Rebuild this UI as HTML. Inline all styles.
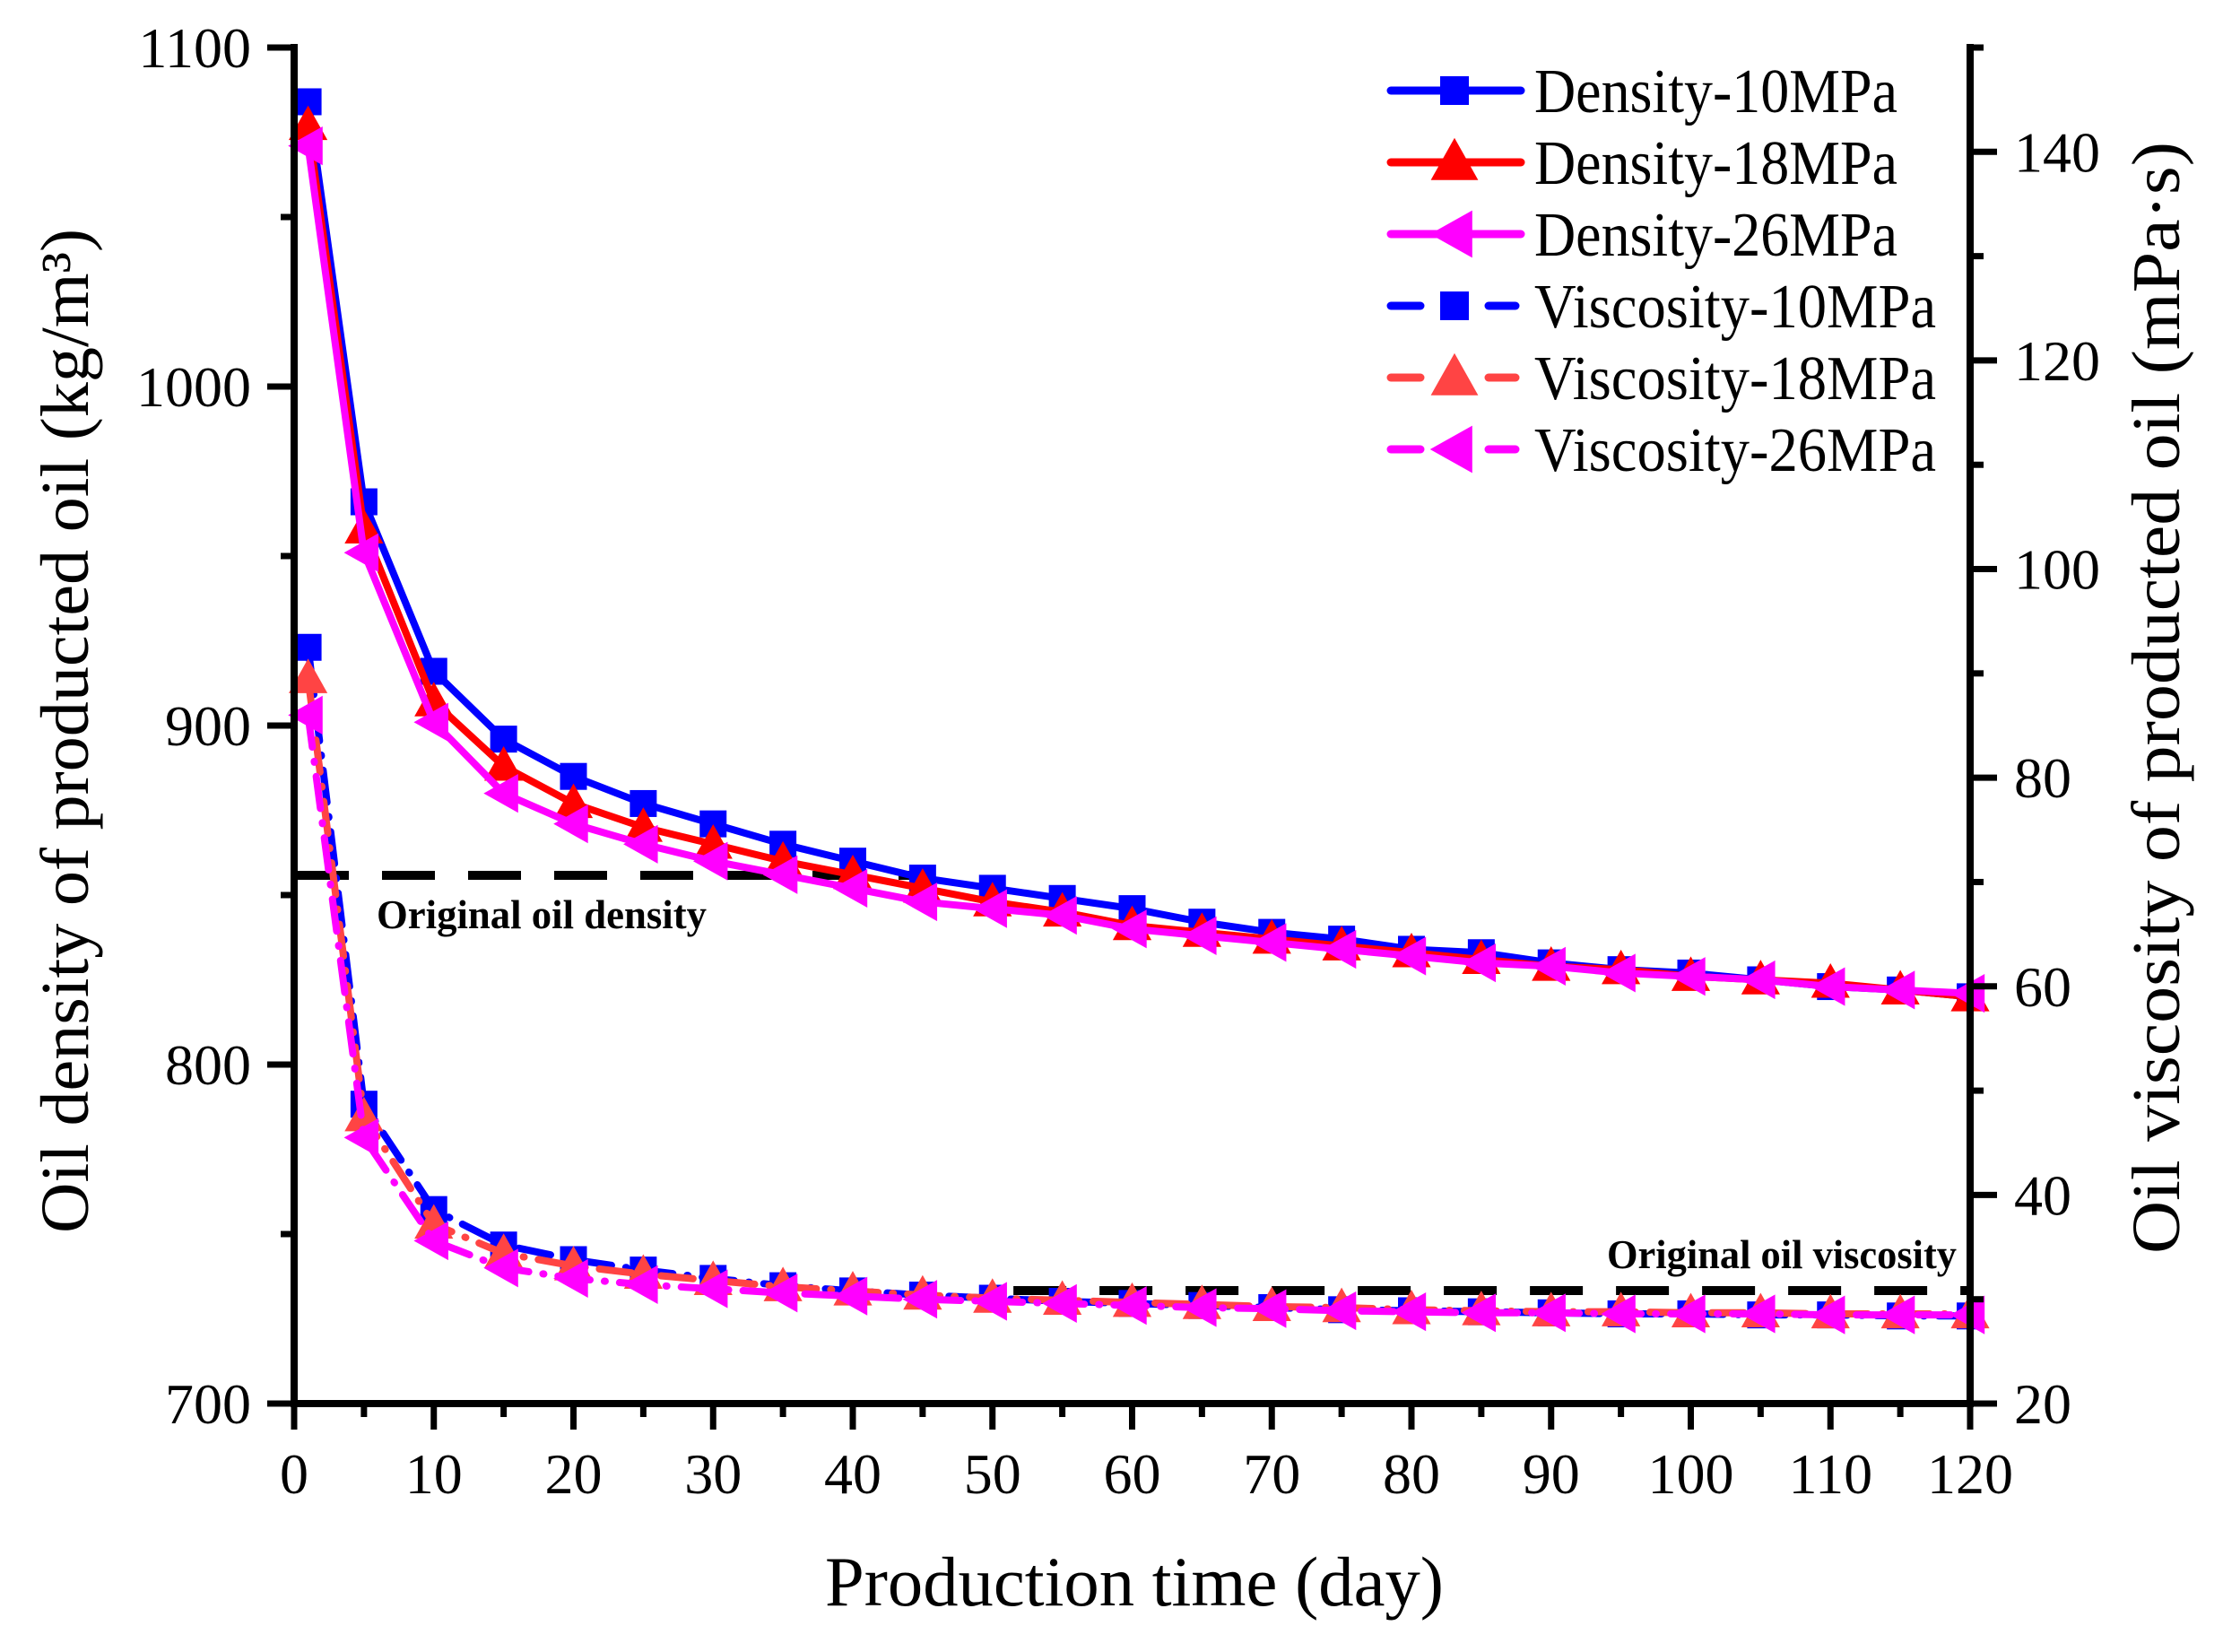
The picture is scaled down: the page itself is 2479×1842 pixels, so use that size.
<!DOCTYPE html>
<html><head><meta charset="utf-8"><style>
html,body{margin:0;padding:0;background:#fff;}
svg{display:block;font-family:"Liberation Serif",serif;}
</style></head><body>
<svg id="s" width="2479" height="1842" viewBox="0 0 2479 1842" xmlns="http://www.w3.org/2000/svg">
<rect width="2479" height="1842" fill="#fff"/>
<g id="plot"></g>
<g stroke="#000" stroke-width="8" fill="none">
<line x1="328" y1="49" x2="328" y2="1569"/>
<line x1="2197" y1="49" x2="2197" y2="1569"/>
<line x1="324" y1="1565" x2="2201" y2="1565"/>
</g>
<g id="ticks" stroke="#000" stroke-width="7"></g>
<g id="labels" font-size="64" fill="#000"></g>
<text x="1265" y="1790" font-size="78" text-anchor="middle" textLength="690" lengthAdjust="spacingAndGlyphs">Production time (day)</text>
<text transform="translate(98,815) rotate(-90)" font-size="76" text-anchor="middle" textLength="1120" lengthAdjust="spacingAndGlyphs">Oil density of producted oil (kg/m³)</text>
<text transform="translate(2430,778) rotate(-90)" font-size="76" text-anchor="middle" textLength="1240" lengthAdjust="spacingAndGlyphs">Oil viscosity of producted oil (mPa·s)</text>
<text x="420" y="1035" font-size="46" font-weight="bold" textLength="368" lengthAdjust="spacingAndGlyphs">Original oil density</text>
<text x="1792" y="1414" font-size="46" font-weight="bold" textLength="390" lengthAdjust="spacingAndGlyphs">Original oil viscosity</text>
<g id="legend"></g>
</svg>
<script>
var NS="http://www.w3.org/2000/svg";
function el(p,t,a,txt){var e=document.createElementNS(NS,t);for(var k in a)e.setAttribute(k,a[k]);if(txt!=null)e.textContent=txt;p.appendChild(e);return e;}
var X=function(d){return 328+d*1869/120;};
var YL=function(v){return 1565-(v-700)*1512/400;};
var YR=function(v){return 1565-(v-20)*1512/130;};
var days=[1];for(var d=5;d<=120;d+=5)days.push(d);
var D10=[1084,966,916,896,885,877,871,865,860,855,852,849,846,842,839,837,834,833,830,828,827,825,823,822,820];
var D18=[1077,958,907,888,877,870,865,860,856,852,848,845,841,839,837,835,833,831,829,828,826,825,824,822,820];
var D26=[1071,951,901,880,871,865,860,856,852,848,846,844,840,838,836,834,832,830,829,827,826,825,823,822,821];
var V10=[92.5,48.7,38.6,35.2,33.8,32.8,32.0,31.3,30.8,30.4,30.1,29.8,29.6,29.4,29.2,29.0,28.9,28.8,28.7,28.6,28.6,28.5,28.5,28.4,28.4];
var V18=[89.5,47.5,37.2,34.4,33.2,32.4,31.8,31.2,30.8,30.4,30.1,29.9,29.7,29.5,29.3,29.2,29.0,28.9,28.8,28.8,28.7,28.7,28.6,28.6,28.6];
var V26=[86,45.5,35.6,33.0,32.0,31.4,31.0,30.6,30.3,30.0,29.8,29.6,29.4,29.2,29.1,28.9,28.8,28.7,28.7,28.6,28.6,28.6,28.5,28.5,28.5];
var g=document.getElementById('plot');
el(g,'line',{x1:330,y1:976,x2:X(44.5),y2:976,stroke:'#000','stroke-width':10,'stroke-dasharray':'59 37'});
el(g,'line',{x1:X(51.5),y1:1439,x2:2193,y2:1439,stroke:'#000','stroke-width':10,'stroke-dasharray':'59 37'});
function marker(p,type,x,y,c,s){
 if(type==='sq')el(p,'rect',{x:x-s/2,y:y-s/2,width:s,height:s,fill:c});
 else if(type==='up')el(p,'polygon',{points:(x)+','+(y-s*0.62)+' '+(x-s*0.6)+','+(y+s*0.45)+' '+(x+s*0.6)+','+(y+s*0.45),fill:c});
 else el(p,'polygon',{points:(x-s*0.62)+','+y+' '+(x+s*0.45)+','+(y-s*0.6)+' '+(x+s*0.45)+','+(y+s*0.6),fill:c});
}
function series(data,Y,c,type,dash){
 var pts=data.map(function(v,i){return X(days[i])+','+Y(v);}).join(' ');
 var a={points:pts,fill:'none',stroke:c,'stroke-width':8,'stroke-linejoin':'round','stroke-linecap':'round'};
 if(dash)a['stroke-dasharray']=dash;
 el(g,'polyline',a);
 data.forEach(function(v,i){marker(g,type,X(days[i]),Y(v),c,type==='sq'?30:36);});
}
series(V10,YR,'#0000ff','sq','36 16 1 16');
series(V18,YR,'#ff4444','up','36 16 1 16');
series(V26,YR,'#ff00ff','left','36 16 1 16');
series(D10,YL,'#0000ff','sq');
series(D18,YL,'#ff0000','up');
series(D26,YL,'#ff00ff','left');
var t=document.getElementById('ticks'),L=document.getElementById('labels');
for(var d=0;d<=120;d+=5){var maj=d%10===0;el(t,'line',{x1:X(d),y1:1565,x2:X(d),y2:maj?1594:1580});
 if(maj)el(L,'text',{x:X(d),y:1665,'text-anchor':'middle'},String(d));}
for(var v=700;v<=1100;v+=50){var maj=v%100===0;el(t,'line',{x1:328,y1:YL(v),x2:maj?298:313,y2:YL(v)});
 if(maj)el(L,'text',{x:280,y:YL(v)+22,'text-anchor':'end'},String(v));}
for(var v=20;v<=150;v+=10){var maj=v%20===0;el(t,'line',{x1:2197,y1:YR(v),x2:maj?2227:2212,y2:YR(v)});
 if(maj)el(L,'text',{x:2246,y:YR(v)+22},String(v));}
var lg=document.getElementById('legend');
var items=[['Density-10MPa','#0000ff','sq',0,405],['Density-18MPa','#ff0000','up',0,405],['Density-26MPa','#ff00ff','left',0,405],
['Viscosity-10MPa','#0000ff','sq',1,448],['Viscosity-18MPa','#ff4444','up',1,448],['Viscosity-26MPa','#ff00ff','left',1,448]];
items.forEach(function(it,i){var y=101+i*80;
 if(it[3]){el(lg,'line',{x1:1551,y1:y,x2:1584,y2:y,stroke:it[1],'stroke-width':9,'stroke-linecap':'round'});
  el(lg,'line',{x1:1660,y1:y,x2:1690,y2:y,stroke:it[1],'stroke-width':9,'stroke-linecap':'round'});}
 else el(lg,'line',{x1:1551,y1:y,x2:1696,y2:y,stroke:it[1],'stroke-width':9,'stroke-linecap':'round'});
 marker(lg,it[2],1622,y,it[1],it[2]==='sq'?32:44);
 el(lg,'text',{x:1711,y:y+24,'font-size':70,textLength:it[4],lengthAdjust:'spacingAndGlyphs'},it[0]);
});
</script>
</body></html>
